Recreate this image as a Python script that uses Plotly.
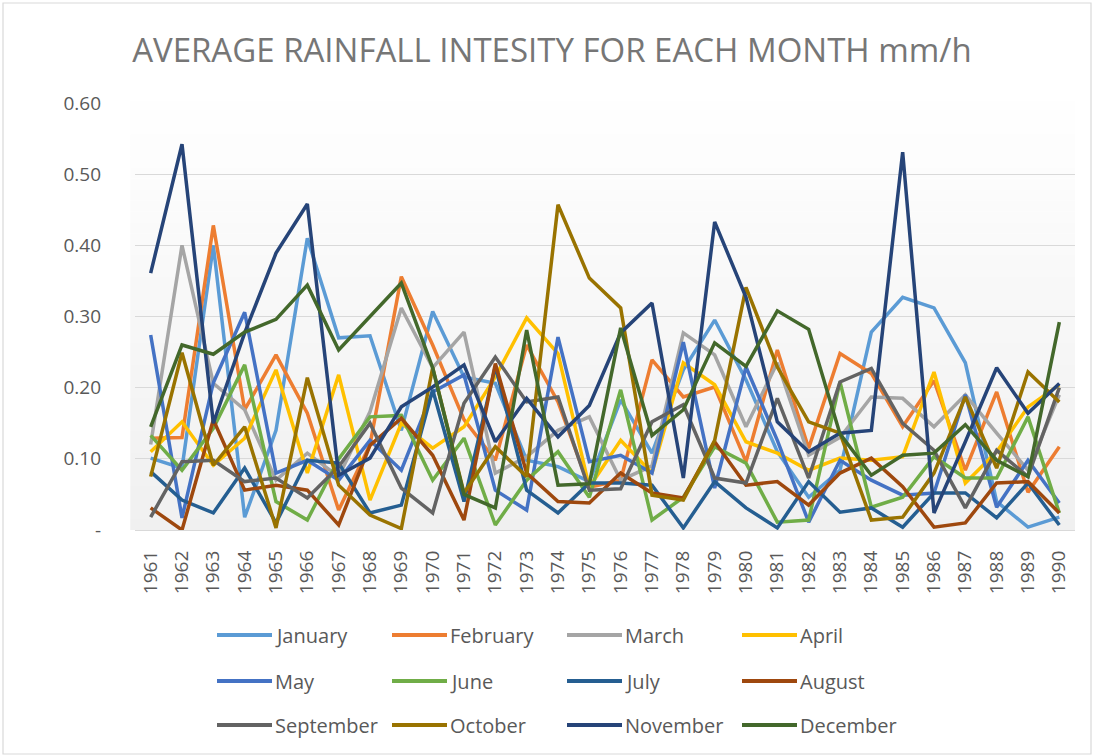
import plotly.graph_objects as go

YEARS = [str(y) for y in range(1961, 1991)]
MONTHS = ["January", "February", "March", "April", "May", "June",
          "July", "August", "September", "October", "November", "December"]
COLORS = ["#5B9BD5", "#ED7D31", "#A5A5A5", "#FFC000", "#4472C4", "#70AD47",
          "#255E91", "#9E480E", "#636363", "#997300", "#264478", "#43682B"]

january = [0.101, 0.087, 0.400, 0.018, 0.140, 0.410, 0.270, 0.273, 0.140, 0.307, 0.215, 0.206, 0.098, 0.089, 0.068,
           0.183, 0.108, 0.225, 0.295, 0.211, 0.110, 0.046, 0.084, 0.278, 0.327, 0.312, 0.235, 0.040, 0.004, 0.018]
february = [0.129, 0.130, 0.428, 0.169, 0.246, 0.164, 0.028, 0.120, 0.356, 0.260, 0.155, 0.098, 0.260, 0.180, 0.060,
            0.070, 0.239, 0.187, 0.201, 0.096, 0.253, 0.115, 0.248, 0.220, 0.145, 0.210, 0.084, 0.194, 0.053, 0.117]
march = [0.120, 0.400, 0.206, 0.169, 0.070, 0.108, 0.075, 0.166, 0.312, 0.228, 0.278, 0.080, 0.103, 0.140, 0.159,
         0.070, 0.090, 0.277, 0.246, 0.145, 0.235, 0.105, 0.130, 0.187, 0.185, 0.145, 0.190, 0.136, 0.084, 0.190]
april = [0.110, 0.152, 0.091, 0.129, 0.225, 0.080, 0.218, 0.042, 0.150, 0.115, 0.145, 0.215, 0.298, 0.248, 0.060,
         0.126, 0.080, 0.235, 0.204, 0.124, 0.108, 0.084, 0.101, 0.098, 0.103, 0.222, 0.066, 0.110, 0.173, 0.204]
may = [0.274, 0.017, 0.207, 0.306, 0.080, 0.098, 0.070, 0.126, 0.084, 0.194, 0.218, 0.056, 0.028, 0.271, 0.096,
       0.105, 0.080, 0.264, 0.059, 0.229, 0.126, 0.011, 0.098, 0.070, 0.049, 0.052, 0.190, 0.032, 0.098, 0.038]
june = [0.133, 0.084, 0.143, 0.232, 0.040, 0.014, 0.100, 0.159, 0.161, 0.070, 0.129, 0.007, 0.070, 0.110, 0.046,
        0.197, 0.014, 0.046, 0.117, 0.094, 0.011, 0.014, 0.208, 0.032, 0.046, 0.103, 0.073, 0.073, 0.159, 0.024]
july = [0.082, 0.042, 0.024, 0.087, 0.010, 0.098, 0.094, 0.024, 0.035, 0.197, 0.040, 0.230, 0.056, 0.024, 0.066,
        0.066, 0.063, 0.003, 0.068, 0.031, 0.003, 0.068, 0.025, 0.031, 0.004, 0.052, 0.052, 0.017, 0.066, 0.007]
august = [0.031, 0.000, 0.155, 0.056, 0.063, 0.056, 0.007, 0.119, 0.157, 0.105, 0.014, 0.234, 0.080, 0.040, 0.038,
          0.080, 0.052, 0.045, 0.124, 0.063, 0.068, 0.035, 0.080, 0.101, 0.061, 0.004, 0.010, 0.066, 0.068, 0.024]
september = [0.018, 0.096, 0.098, 0.068, 0.073, 0.045, 0.089, 0.150, 0.059, 0.024, 0.178, 0.243, 0.180, 0.187, 0.056,
             0.058, 0.152, 0.176, 0.073, 0.066, 0.185, 0.073, 0.208, 0.227, 0.150, 0.112, 0.031, 0.112, 0.075, 0.200]
october = [0.075, 0.249, 0.091, 0.145, 0.003, 0.214, 0.063, 0.021, 0.002, 0.228, 0.052, 0.117, 0.075, 0.457, 0.354,
           0.312, 0.049, 0.042, 0.126, 0.341, 0.229, 0.152, 0.136, 0.014, 0.018, 0.080, 0.187, 0.087, 0.222, 0.180]
november = [0.361, 0.542, 0.150, 0.277, 0.389, 0.458, 0.077, 0.101, 0.173, 0.201, 0.232, 0.124, 0.185, 0.131, 0.175,
            0.277, 0.319, 0.073, 0.433, 0.327, 0.152, 0.110, 0.136, 0.140, 0.531, 0.024, 0.124, 0.228, 0.164, 0.206]
december = [0.145, 0.260, 0.247, 0.278, 0.296, 0.344, 0.253, 0.300, 0.347, 0.228, 0.050, 0.031, 0.281, 0.063, 0.065,
            0.284, 0.133, 0.169, 0.263, 0.230, 0.308, 0.282, 0.135, 0.077, 0.105, 0.108, 0.148, 0.098, 0.075, 0.292]

SERIES = [january, february, march, april, may, june, july, august, september, october, november, december]

Y_TICKS = [0, 0.1, 0.2, 0.3, 0.4, 0.5, 0.6]
Y_TICKTEXT = ["-", "0.10", "0.20", "0.30", "0.40", "0.50", "0.60"]

FONT = "'Open Sans', 'Noto Sans', sans-serif"
TXT = "#595959"

W, H = 1094, 756
L, R, T, B = 135, 19, 103, 226
PW, PH = W - L - R, H - T - B


def px(x):
    return (x - L) / PW


def py(y):
    return (H - B - y) / PH


fig = go.Figure()
for name, vals, col in zip(MONTHS, SERIES, COLORS):
    fig.add_trace(go.Scatter(x=YEARS, y=vals, name=name, mode="lines",
                             line=dict(color=col, width=3.5), showlegend=False))

shapes = []
# gradient background for plot area
n = 40
top_c, bot_c = (255, 255, 255), (240, 240, 240)
for i in range(n):
    t = (i + 0.5) / n
    c = tuple(int(round(top_c[k] + (bot_c[k] - top_c[k]) * t)) for k in range(3))
    y1 = 1.03 - 1.03 * i / n
    y0 = 1.03 - 1.03 * (i + 1) / n
    shapes.append(dict(type="rect", xref="paper", yref="paper", x0=-0.005, x1=1.0,
                       y0=y0, y1=y1, line=dict(width=0), fillcolor="rgb(%d,%d,%d)" % c,
                       layer="below"))
# outer chart border
shapes.append(dict(type="rect", xref="paper", yref="paper", x0=px(3), x1=px(W - 3),
                   y0=py(H - 2), y1=py(3), line=dict(color="#D9D9D9", width=1.2),
                   fillcolor="rgba(0,0,0,0)", layer="below"))

# manual legend
annotations = []
col_x = [217, 392, 567, 742]
row_y = [635, 681, 725]
for i, (name, col) in enumerate(zip(MONTHS, COLORS)):
    cx = col_x[i % 4]
    ry = row_y[i // 4]
    shapes.append(dict(type="line", xref="paper", yref="paper", x0=px(cx), x1=px(cx + 55),
                       y0=py(ry), y1=py(ry), line=dict(color=col, width=4)))
    annotations.append(dict(text=name, xref="paper", yref="paper", x=px(cx + 56), y=py(ry),
                            xanchor="left", yanchor="middle", showarrow=False,
                            font=dict(family=FONT, size=20, color=TXT)))

fig.update_layout(
    width=W, height=H,
    margin=dict(l=L, r=R, t=T, b=B, pad=0),
    paper_bgcolor="white", plot_bgcolor="rgba(0,0,0,0)",
    title=dict(text="AVERAGE RAINFALL INTESITY FOR EACH MONTH mm/h", x=0.5045, xanchor="center",
               y=1 - 50 / H, yanchor="middle",
               font=dict(family=FONT, size=33, color="#767676")),
    shapes=shapes, annotations=annotations,
    showlegend=False,
    xaxis=dict(type="category", range=[-0.5, 29.5], tickangle=-90, showgrid=False,
               showline=True, linecolor="#D9D9D9", linewidth=1.2, ticks="",
               tickfont=dict(family=FONT, size=19, color=TXT), ticklabelstandoff=12),
    yaxis=dict(range=[0, 0.6], tickvals=Y_TICKS, ticktext=Y_TICKTEXT, showgrid=True,
               gridcolor="#D9D9D9", gridwidth=1.2, zeroline=False, showline=False, ticks="",
               tickfont=dict(family=FONT, size=19, color=TXT), ticklabelstandoff=33),
    font=dict(family=FONT, color=TXT),
)

fig.write_html("out.html", config={"displayModeBar": False},
               post_script="document.body.style.margin='0';document.body.style.overflow='hidden';")
